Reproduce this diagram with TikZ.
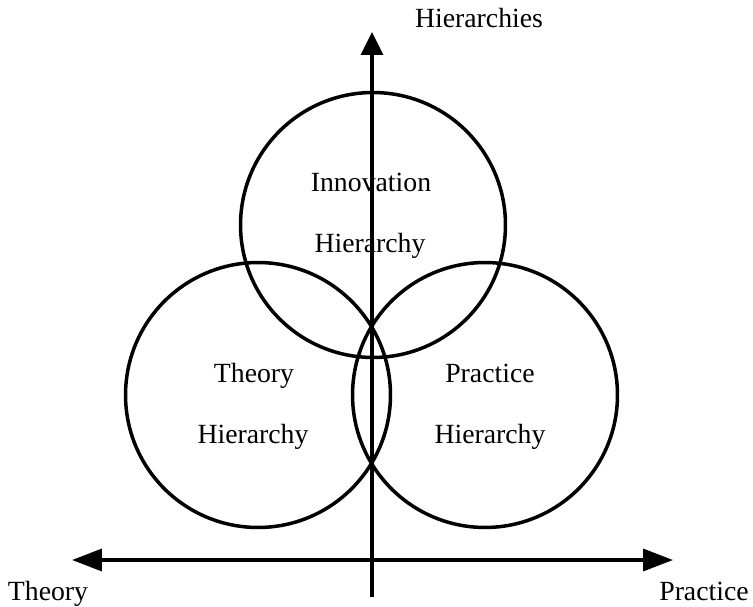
\documentclass[tikz,border=0pt]{standalone}
\usepackage{fontspec}
\setmainfont{Liberation Serif}
\usetikzlibrary{arrows.meta}

\begin{document}
\begin{tikzpicture}[x=0.02cm,y=-0.02cm,
  ring/.style={draw,circle,line width=0.07cm,minimum size=5.3cm,inner sep=0pt},
  lbl/.style={font=\fontsize{15.8}{18}\selectfont,anchor=base,inner sep=0pt},
  axis/.style={line width=0.07cm,-{Triangle[length=#1,width=0.44cm]}}]
\useasboundingbox (0,0) rectangle (753,607);
% the three hierarchies
\node[ring] (inno) at (373,225) {};
\node[ring] (theo) at (258,395) {};
\node[ring] (prac) at (485,395) {};
% axes
\coordinate (o) at (372,560); \coordinate (bot) at (372,597);
\coordinate (up) at (372,32); \coordinate (lft) at (72,560); \coordinate (rgt) at (673,560);
\draw[axis=0.46cm] (bot) -- (up);
\draw[axis=0.6cm] (o) -- (lft); \draw[axis=0.6cm] (o) -- (rgt);
% labels
\node[lbl] (innoA) at (371,192) {Innovation}; \node[lbl] (innoB) at (370,253) {Hierarchy};
\node[lbl] (theoA) at (254,382) {Theory};     \node[lbl] (theoB) at (253,443) {Hierarchy};
\node[lbl] (pracA) at (490,382) {Practice};   \node[lbl] (pracB) at (490,443) {Hierarchy};
\node[lbl] (hier) at (479,28) {Hierarchies};
\node[lbl] (theory) at (48,600) {Theory};
\node[lbl] (practice) at (704,600) {Practice};
\end{tikzpicture}
\end{document}
